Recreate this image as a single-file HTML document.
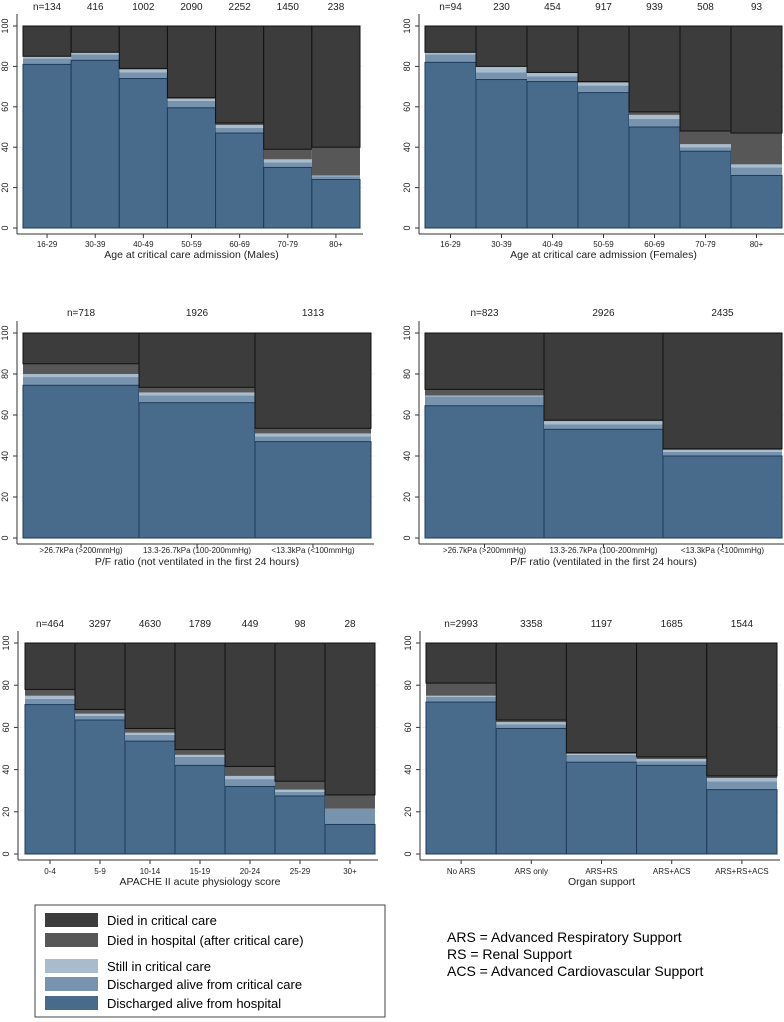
<!DOCTYPE html>
<html><head><meta charset="utf-8">
<style>
body{margin:0;background:#fff;}
svg{display:block;font-family:"Liberation Sans",Arial,sans-serif;}
</style></head>
<body>
<svg id="chart" width="784" height="1022" viewBox="0 0 784 1022" xmlns="http://www.w3.org/2000/svg">
<g id="panels"></g>
<g>
<rect x="35" y="905" width="350" height="112" fill="#fff" stroke="#444" stroke-width="1"/>
<rect x="45" y="913" width="53" height="14" fill="#3c3c3c"/>
<text x="107" y="925" font-size="13">Died in critical care</text>
<rect x="45" y="933" width="53" height="14" fill="#575757"/>
<text x="107" y="945" font-size="13">Died in hospital (after critical care)</text>
<rect x="45" y="959" width="53" height="14" fill="#a9bccd"/>
<text x="107" y="971" font-size="13">Still in critical care</text>
<rect x="45" y="977" width="53" height="14" fill="#7793ad"/>
<text x="107" y="989" font-size="13">Discharged alive from critical care</text>
<rect x="45" y="996" width="53" height="14" fill="#486b8c"/>
<text x="107" y="1008" font-size="13">Discharged alive from hospital</text>
</g>
<g font-size="14">
<text x="447" y="942">ARS = Advanced Respiratory Support</text>
<text x="447" y="959">RS = Renal Support</text>
<text x="447" y="976">ACS = Advanced Cardiovascular Support</text>
</g>
</svg>
<script>
// Data: cumulative tops [dischargedHosp, +dischargedCC, +stillCC, +diedHosp], remainder to 100 = died in CC
const maleCats = ["16-29","30-39","40-49","50-59","60-69","70-79","80+"];
const maleN = ["n=134","416","1002","2090","2252","1450","238"];
const maleVals = [[81,84,85,85],[83,86,87,87],[74,77,78.5,79],[59.5,63,64,64.5],[47,49.5,51,52],[30,32.5,34,39],[24,25.5,26,40]];
const femCats = ["16-29","30-39","40-49","50-59","60-69","70-79","80+"];
const femN = ["n=94","230","454","917","939","508","93"];
const femVals = [[82,86,87,87],[73.5,77,80,80],[72.5,75,77,77],[67,70.5,72,72.5],[50,54,56,57.5],[38,40,41.5,48],[26,30,31.5,47]];
const pfCats = [">26.7kPa (>200mmHg)","13.3-26.7kPa (100-200mmHg)","<13.3kPa (<100mmHg)"];
const pfNoN = ["n=718","1926","1313"];
const pfNoVals = [[74.5,78.5,80,85],[66,69.5,71,73.5],[47,49.5,51,53.5]];
const pfVN = ["n=823","2926","2435"];
const pfVVals = [[64.5,69,69.5,72.5],[53,55.5,57,57.5],[40,42,43,43.5]];
const apCats = ["0-4","5-9","10-14","15-19","20-24","25-29","30+"];
const apN = ["n=464","3297","4630","1789","449","98","28"];
const apVals = [[70.8,73.5,75,78],[63.5,65.5,66.5,68.5],[53.5,56.5,57.5,59.5],[42,46,47,49.5],[32,35.5,37,41.5],[27.5,29.5,30.5,34.5],[14,21.5,21.5,28]];
const orgCats = ["No ARS","ARS only","ARS+RS","ARS+ACS","ARS+RS+ACS"];
const orgN = ["n=2993","3358","1197","1685","1544"];
const orgVals = [[72,74.5,75,81],[59.5,61.5,62.5,63.5],[43.5,47,47.5,48],[42,44,45,46],[30.5,34.5,36,37]];
const yTicks = [0,20,40,60,80,100];

const NS="http://www.w3.org/2000/svg";
const layerColors=["#486b8c","#7793ad","#a9bccd","#575757","#3c3c3c"];
const layerNames=["discharged-hospital","discharged-cc","still-cc","died-hospital","died-cc"];
function mk(tag,attrs,parent){const e=document.createElementNS(NS,tag);for(const k in attrs)e.setAttribute(k,attrs[k]);parent.appendChild(e);return e;}
const root=document.getElementById("panels");
const panels=[
 {name:"males-age",cats:maleCats,n:maleN,vals:maleVals,title:"Age at critical care admission (Males)",x0:23,x1:360,y100:26,y0:228,ax:17,ay:234,ny:10,ty:247,tt:258},
 {name:"females-age",cats:femCats,n:femN,vals:femVals,title:"Age at critical care admission (Females)",x0:425,x1:782,y100:26,y0:228,ax:419,ay:234,ny:10,ty:247,tt:258},
 {name:"pf-not-ventilated",cats:pfCats,n:pfNoN,vals:pfNoVals,title:"P/F ratio (not ventilated in the first 24 hours)",x0:23,x1:371,y100:333,y0:538,ax:17,ay:544,ny:316,ty:553,tt:565},
 {name:"pf-ventilated",cats:pfCats,n:pfVN,vals:pfVVals,title:"P/F ratio (ventilated in the first 24 hours)",x0:425,x1:782,y100:333,y0:538,ax:419,ay:544,ny:316,ty:553,tt:565},
 {name:"apache",cats:apCats,n:apN,vals:apVals,title:"APACHE II acute physiology score",x0:25,x1:375,y100:643,y0:854,ax:18,ay:860,ny:627,ty:874,tt:885},
 {name:"organ-support",cats:orgCats,n:orgN,vals:orgVals,title:"Organ support",x0:426,x1:777,y100:643,y0:854,ax:420,ay:860,ny:627,ty:874,tt:885}
];
panels.forEach(p=>{
 const g=mk("g",{},root);
 
 
 const yS=v=>p.y0+(p.y100-p.y0)*v/100;
 const bw=(p.x1-p.x0)/p.cats.length;
 // gridlines & y ticks
 yTicks.forEach(t=>{
  const y=yS(t);
  mk("line",{x1:p.ax,x2:p.x1+4,y1:y,y2:y,stroke:"#eef3f5","stroke-width":1},g);
  mk("line",{x1:p.ax-4,x2:p.ax,y1:y,y2:y,stroke:"#333","stroke-width":1},g);
  const tx=mk("text",{x:p.ax-9,y:y,"font-size":9,"text-anchor":"middle",transform:`rotate(-90 ${p.ax-9} ${y})`,fill:"#222"},g);
  tx.textContent=t;
  
  
 });
 p.cats.forEach((c,i)=>{
  const x=p.x0+i*bw;
  const tops=[...p.vals[i],100];
  let prev=0;
  tops.forEach((t,k)=>{
   const r=mk("rect",{x:x,y:yS(t),width:bw,height:Math.max(0,yS(prev)-yS(t)),fill:layerColors[k]},g);
   
   
   prev=t;
  });
  // segment outlines
  mk("rect",{x:x,y:yS(p.vals[i][0]),width:bw,height:yS(0)-yS(p.vals[i][0]),fill:"none",stroke:"#1d3b5a","stroke-width":1},g);
  mk("rect",{x:x,y:yS(100),width:bw,height:yS(p.vals[i][3])-yS(100),fill:"none",stroke:"#111","stroke-width":1},g);
  const cx=x+bw/2;
  mk("line",{x1:cx,x2:cx,y1:p.ay,y2:p.ay+4,stroke:"#333"},g);
  const tl=mk("text",{x:cx,y:p.ty,"font-size":8,"text-anchor":"middle",fill:"#222"},g);
  tl.textContent=c;
  
  
  const nl=mk("text",{x:cx,y:p.ny,"font-size":10,"text-anchor":"middle",fill:"#222"},g);
  nl.textContent=p.n[i];
  
  
 });
 mk("line",{x1:p.ax,x2:p.ax,y1:p.y100-12,y2:p.ay,stroke:"#333","stroke-width":1},g);
 mk("line",{x1:p.ax,x2:p.x1+3,y1:p.ay,y2:p.ay,stroke:"#333","stroke-width":1},g);
 const tt=mk("text",{x:(p.x0+p.x1)/2,y:p.tt,"font-size":10.5,"text-anchor":"middle",fill:"#222"},g);
 tt.textContent=p.title;
 
 
});
</script>
</body></html>
